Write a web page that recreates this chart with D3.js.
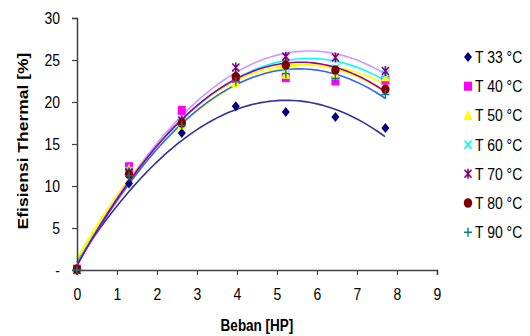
<!DOCTYPE html>
<html>
<head>
<meta charset="utf-8">
<script src="https://cdn.jsdelivr.net/npm/d3@7"></script>
<style>
  body { margin: 0; background: #fff; }
  text { font-family: "Liberation Sans", Arial, sans-serif; }
  /* the original picture is a bit taller than wide, stretch the text like it */
  text.tall { transform-box: fill-box; transform-origin: center; transform: scaleY(1.2); }
  text.long { transform-box: fill-box; transform-origin: center; transform: scaleX(1.25); }
</style>
</head>
<body>
<script>
// beban (HP) and efficiency per temperature
const beban = [0, 1.3, 2.62, 3.97, 5.22, 6.46, 7.71];
const t33 = [0, 10.3, 16.3, 19.5, 18.8, 18.2, 16.9];
const t40 = [0.1, 12.3, 19.0, 22.8, 22.9, 22.5, 22.6];
const t50 = [0.2, 12.0, 17.3, 22.3, 23.3, 23.2, 23.0];
const t60 = [0, 11.8, 17.6, 23.4, 24.2, 24.0, 23.3];
const t70 = [0, 11.6, 17.8, 24.1, 25.4, 25.3, 23.7];
const t80 = [0.1, 11.4, 17.5, 23.0, 24.4, 23.8, 21.5];
const t90 = [0, 11.2, 17.2, 22.4, 23.4, 22.8, 20.9];
const labels = ["T 33 °C", "T 40 °C", "T 50 °C", "T 60 °C", "T 70 °C", "T 80 °C", "T 90 °C"];
const yTicks = [0, 5, 10, 15, 20, 25, 30];
const xTicks = [0, 1, 2, 3, 4, 5, 6, 7, 8, 9];

const series = [
  {name: labels[0], vals: t33, marker: "diamond", color: "#000080", line: "#333399"},
  {name: labels[1], vals: t40, marker: "square", color: "#ff00ff", line: "#ffff00"},
  {name: labels[2], vals: t50, marker: "triangle", color: "#ffff00", line: "#ffff00"},
  {name: labels[3], vals: t60, marker: "x", color: "#00ffff", line: "#00ffff"},
  {name: labels[4], vals: t70, marker: "star", color: "#800080", line: "#cc99ff"},
  {name: labels[5], vals: t80, marker: "circle", color: "#800000", line: "#990099"},
  {name: labels[6], vals: t90, marker: "plus", color: "#008080", line: "#3366ff"}
];

// least squares quadratic (excel polynomial trendline, order 2)
function polyFit(xs, ys) {
  let s = [0, 0, 0, 0, 0], t = [0, 0, 0];
  xs.forEach((x, i) => {
    for (let k = 0; k < 5; k++) s[k] += Math.pow(x, k);
    for (let k = 0; k < 3; k++) t[k] += ys[i] * Math.pow(x, k);
  });
  const A = [[s[0], s[1], s[2], t[0]], [s[1], s[2], s[3], t[1]], [s[2], s[3], s[4], t[2]]];
  for (let i = 0; i < 3; i++) {
    for (let j = i + 1; j < 3; j++) {
      const f = A[j][i] / A[i][i];
      for (let k = i; k < 4; k++) A[j][k] -= f * A[i][k];
    }
  }
  const c = [0, 0, 0];
  for (let i = 2; i >= 0; i--) {
    let v = A[i][3];
    for (let k = i + 1; k < 3; k++) v -= A[i][k] * c[k];
    c[i] = v / A[i][i];
  }
  return x => c[0] + c[1] * x + c[2] * x * x;
}

const width = 530, height = 336;
const margin = {top: 18, right: 93, bottom: 66, left: 77};

const svg = d3.select("body").append("svg")
  .attr("width", width)
  .attr("height", height);

const x = d3.scaleLinear().domain([0, 9]).range([margin.left, width - margin.right]);
const y = d3.scaleLinear().domain([0, 30]).range([height - margin.bottom, margin.top]);

// trend lines
const line = d3.line().x(d => x(d[0])).y(d => y(d[1]));
const order = [0, 1, 2, 3, 4, 6, 5];
order.forEach(i => {
  const s = series[i];
  const f = polyFit(beban, s.vals);
  const pts = d3.range(0, 7.71 + 0.001, 0.1).map(v => [v, f(v)]);
  svg.append("path")
    .attr("d", line(pts))
    .attr("fill", "none")
    .attr("stroke", s.line)
    .attr("stroke-width", 1.6);
});

// axes
const yAxis = svg.append("g")
  .attr("transform", `translate(${margin.left},0)`)
  .call(d3.axisLeft(y).tickValues(yTicks).tickSize(5).tickPadding(12)
    .tickFormat(d => d === 0 ? "-" : d));
const xAxis = svg.append("g")
  .attr("transform", `translate(0,${height - margin.bottom})`)
  .call(d3.axisBottom(x).tickValues(xTicks).tickSize(5).tickPadding(14));
[xAxis, yAxis].forEach(g => {
  g.select(".domain").attr("stroke", "#404040").attr("stroke-width", 1.5);
  g.selectAll(".tick line").attr("stroke", "#404040").attr("stroke-width", 1.2);
  g.selectAll("text").attr("font-size", 14).attr("fill", "#000")
    .attr("class", "tall")
    .attr("font-family", "Liberation Sans, Arial, sans-serif");
});

// markers
function drawMarker(g, type, color, cx, cy) {
  if (type === "diamond") {
    g.append("path").attr("d", `M${cx},${cy - 5}L${cx + 4},${cy}L${cx},${cy + 5}L${cx - 4},${cy}Z`).attr("fill", color);
  } else if (type === "square") {
    g.append("rect").attr("x", cx - 4).attr("y", cy - 4.5).attr("width", 8).attr("height", 9).attr("fill", color);
  } else if (type === "triangle") {
    g.append("path").attr("d", `M${cx},${cy - 5.5}L${cx + 4.5},${cy + 4.5}L${cx - 4.5},${cy + 4.5}Z`).attr("fill", color);
  } else if (type === "circle") {
    g.append("ellipse").attr("cx", cx).attr("cy", cy).attr("rx", 4.2).attr("ry", 4.8).attr("fill", color);
  } else if (type === "x") {
    g.append("path").attr("d", `M${cx - 3.5},${cy - 4}L${cx + 3.5},${cy + 4}M${cx + 3.5},${cy - 4}L${cx - 3.5},${cy + 4}`)
      .attr("stroke", color).attr("stroke-width", 1.6);
  } else if (type === "star") {
    g.append("path").attr("d", `M${cx - 3.5},${cy - 4}L${cx + 3.5},${cy + 4}M${cx + 3.5},${cy - 4}L${cx - 3.5},${cy + 4}M${cx},${cy - 5}L${cx},${cy + 5}`)
      .attr("stroke", color).attr("stroke-width", 1.6);
  } else if (type === "plus") {
    g.append("path").attr("d", `M${cx - 4},${cy}L${cx + 4},${cy}M${cx},${cy - 4.5}L${cx},${cy + 4.5}`)
      .attr("stroke", color).attr("stroke-width", 1.4);
  }
}

const pts = svg.append("g");
series.forEach(s => {
  s.vals.forEach((v, i) => drawMarker(pts, s.marker, s.color, x(beban[i]), y(v)));
});

// legend
const leg = svg.append("g");
series.forEach((s, i) => {
  const ly = 57 + i * 29.2;
  drawMarker(leg, s.marker, s.color, 468, ly);
  leg.append("text")
    .attr("class", "tall")
    .attr("x", 475)
    .attr("y", ly + 5)
    .attr("font-size", 14)
    .text(s.name);
});

// axis titles
svg.append("text")
  .attr("class", "tall")
  .attr("x", x(4.5))
  .attr("y", 330)
  .attr("text-anchor", "middle")
  .attr("font-size", 13.5)
  .attr("font-weight", "bold")
  .text("Beban [HP]");

svg.append("g")
  .attr("transform", "translate(28,141) rotate(-90)")
  .append("text")
  .attr("class", "long")
  .attr("text-anchor", "middle")
  .attr("font-size", 14)
  .attr("font-weight", "bold")
  .text("Efisiensi Thermal [%]");
</script>
</body>
</html>
